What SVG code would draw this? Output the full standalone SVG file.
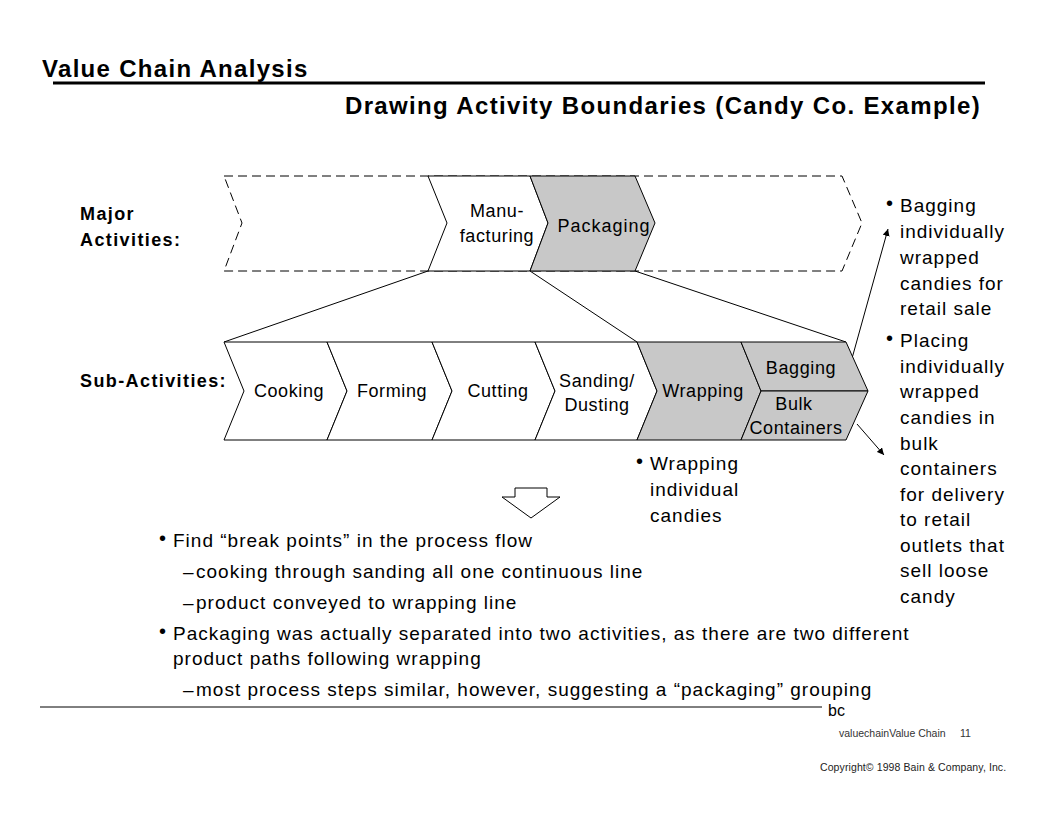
<svg xmlns="http://www.w3.org/2000/svg" width="1056" height="816" viewBox="0 0 1056 816">
<defs>
<style>
text{font-family:"Liberation Sans",Arial,sans-serif;fill:#000}
.t1{font-size:24px;font-weight:bold;letter-spacing:1.3px}
.t2{font-size:24px;font-weight:bold;letter-spacing:1.35px}
.lab{font-size:18px;font-weight:bold;letter-spacing:1.4px}
.cv{font-size:18px;letter-spacing:0.6px;text-anchor:middle}
.b{font-size:19px;letter-spacing:1px}
.bul{font-size:20px}
.ft{font-size:10.5px;fill:#333}
.ch{stroke:#000;stroke-width:1;fill:#fff}
.g{fill:#c8c8c8}
.dash{stroke:#000;stroke-width:1;fill:#fff;stroke-dasharray:9,5}
.ln{stroke:#000;stroke-width:1;fill:none}
</style>
<marker id="ah" viewBox="0 0 10 10" refX="10" refY="5" markerWidth="7" markerHeight="7" orient="auto" markerUnits="userSpaceOnUse">
<path d="M0,0 L10,5 L0,10 z" fill="#000"/>
</marker>
</defs>
<rect width="1056" height="816" fill="#fff"/>
<g id="title">
<text class="t1" x="42" y="77">Value Chain Analysis</text>
<line x1="53" y1="83" x2="985" y2="83" stroke="#000" stroke-width="3"/>
<text class="t2" x="345" y="114">Drawing Activity Boundaries (Candy Co. Example)</text>
</g>
<g id="row-labels">
<text class="lab" x="80" y="220">Major</text>
<text class="lab" x="80" y="246">Activities:</text>
<text class="lab" x="80" y="387">Sub-Activities:</text>
</g>
<g id="major-outline">
<polygon class="dash" points="224,176 842,176 862,223 842,271 224,271 242,223"/>
</g>
<g id="manufacturing">
<polygon class="ch" points="428,176 530,176 548,223 530,271 428,271 447,223"/>
<text class="cv" x="497" y="217">Manu-</text>
<text class="cv" x="497" y="242">facturing</text>
</g>
<g id="packaging">
<polygon class="ch g" points="530,176 635,176 655,223 635,271 530,271 548,223"/>
<text class="cv" x="604" y="232" style="letter-spacing:1px">Packaging</text>
</g>
<g id="connectors">
<line class="ln" x1="428" y1="271" x2="224" y2="342"/>
<line class="ln" x1="530" y1="271" x2="637" y2="342"/>
<line class="ln" x1="635" y1="271" x2="846" y2="342"/>
<line class="ln" x1="851" y1="362" x2="888" y2="229" marker-end="url(#ah)"/>
<line class="ln" x1="857" y1="424" x2="884" y2="455" marker-end="url(#ah)"/>
</g>
<g id="cooking">
<polygon class="ch" points="224,342 327,342 347,391 327,440 224,440 244,391"/>
<text class="cv" x="289" y="397">Cooking</text>
</g>
<g id="forming">
<polygon class="ch" points="327,342 432,342 452,391 432,440 327,440 347,391"/>
<text class="cv" x="392" y="397">Forming</text>
</g>
<g id="cutting">
<polygon class="ch" points="432,342 535,342 555,391 535,440 432,440 452,391"/>
<text class="cv" x="498" y="397">Cutting</text>
</g>
<g id="sanding">
<polygon class="ch" points="535,342 637,342 657,391 637,440 535,440 555,391"/>
<text class="cv" x="597" y="387">Sanding/</text>
<text class="cv" x="597" y="411">Dusting</text>
</g>
<g id="wrapping">
<polygon class="ch g" points="637,342 741,342 761,391 741,440 637,440 657,391"/>
<text class="cv" x="703" y="397">Wrapping</text>
</g>
<g id="bagging">
<polygon class="ch g" points="741,342 846,342 868,391 761,391"/>
<text class="cv" x="801" y="374">Bagging</text>
</g>
<g id="bulk">
<polygon class="ch g" points="761,391 868,391 846,440 741,440"/>
<text class="cv" x="794" y="410">Bulk</text>
<text class="cv" x="796" y="434">Containers</text>
</g>
<g id="bagging-note">
<text class="bul" x="886" y="210">•</text>
<text class="b" x="900" y="212">Bagging</text>
<text class="b" x="900" y="238">individually</text>
<text class="b" x="900" y="264">wrapped</text>
<text class="b" x="900" y="290">candies for</text>
<text class="b" x="900" y="315">retail sale</text>
</g>
<g id="bulk-note">
<text class="bul" x="886" y="345">•</text>
<text class="b" x="900" y="347">Placing</text>
<text class="b" x="900" y="373">individually</text>
<text class="b" x="900" y="398">wrapped</text>
<text class="b" x="900" y="424">candies in</text>
<text class="b" x="900" y="450">bulk</text>
<text class="b" x="900" y="475">containers</text>
<text class="b" x="900" y="501">for delivery</text>
<text class="b" x="900" y="526">to retail</text>
<text class="b" x="900" y="552">outlets that</text>
<text class="b" x="900" y="577">sell loose</text>
<text class="b" x="900" y="603">candy</text>
</g>
<g id="wrapping-note">
<text class="bul" x="636" y="468">•</text>
<text class="b" x="650" y="470">Wrapping</text>
<text class="b" x="650" y="496">individual</text>
<text class="b" x="650" y="522">candies</text>
</g>
<g id="down-arrow">
<polygon class="ch" points="515,488 547,488 547,497 560,497 531,518 502,497 515,497"/>
</g>
<g id="findings">
<text class="bul" x="159" y="545">•</text>
<text class="b" x="173" y="547">Find “break points” in the process flow</text>
<text class="b" x="183" y="578">–</text>
<text class="b" x="196" y="578">cooking through sanding all one continuous line</text>
<text class="b" x="183" y="609">–</text>
<text class="b" x="196" y="609">product conveyed to wrapping line</text>
<text class="bul" x="159" y="638">•</text>
<text class="b" x="173" y="640">Packaging was actually separated into two activities, as there are two different</text>
<text class="b" x="173" y="665">product paths following wrapping</text>
<text class="b" x="183" y="696">–</text>
<text class="b" x="196" y="696">most process steps similar, however, suggesting a “packaging” grouping</text>
</g>
<g id="footer">
<line x1="40" y1="707" x2="822" y2="707" stroke="#000" stroke-width="1"/>
<text x="828" y="716" style="font-size:16px">bc</text>
<text class="ft" x="839" y="737">valuechainValue Chain</text>
<text class="ft" x="960" y="737">11</text>
<text x="820" y="771" style="font-size:10.5px;letter-spacing:0.1px;fill:#222">Copyright© 1998 Bain &amp; Company, Inc.</text>
</g>
</svg>
